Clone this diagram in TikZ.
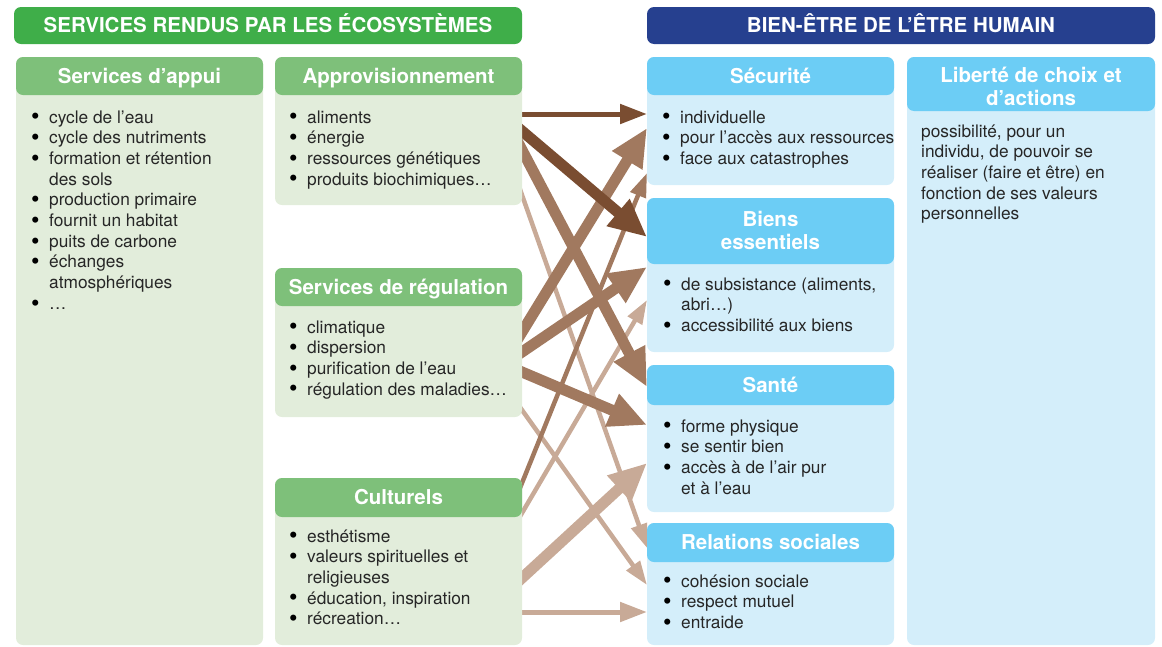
\documentclass[tikz,border=0pt]{standalone}
\usepackage{fontspec}
\setmainfont{TeX Gyre Heros}
\usetikzlibrary{arrows.meta}
\definecolor{gTop}{RGB}{63,174,73}
\definecolor{gHead}{RGB}{126,192,122}
\definecolor{gBody}{RGB}{226,237,219}
\definecolor{bTop}{RGB}{38,64,143}
\definecolor{bHead}{RGB}{108,205,245}
\definecolor{bBody}{RGB}{212,238,250}
\definecolor{aDark}{RGB}{122,77,49}
\definecolor{aMid}{RGB}{161,121,95}
\definecolor{aLight}{RGB}{200,170,151}
\definecolor{txtc}{RGB}{38,38,38}
\newcommand\bodyfnt{\fontsize{17.3}{20.7}\selectfont}
\newcommand\headfnt{\fontsize{20.5}{23}\selectfont\bfseries}
\newcommand\bu{\makebox[18pt][l]{\smash{\raisebox{-1.8pt}{\scalebox{1.4}{\color{black}\textbullet}}}}}
\newcommand\ind{\hspace*{18pt}}
\begin{document}
\begin{tikzpicture}[x=1pt,y=-1pt,
  panel/.style={rounded corners=7pt, inner sep=0pt, outer sep=0pt, anchor=north west, draw=none},
  htxt/.style={font=\headfnt, text=white, inner sep=0pt, text height=14.7pt, text depth=0pt},
  btxt/.style={font=\bodyfnt, text=txtc, inner sep=0pt, anchor=base west},
  arr/.style={line cap=butt, shorten <=-12pt},
  bigarrow/.style={arr, line width=11pt, -{Triangle[length=38pt,width=33pt]}},
  thinarrow/.style={arr, line width=4.5pt, -{Triangle[length=24pt,width=16pt]}},
  horarrow/.style={arr, line width=5pt, -{Triangle[length=27pt,width=19pt]}}]
\path[use as bounding box] (0,0) rectangle (1162,646);

% ---------- arrows (drawn first, boxes cover their starts) ----------
\coordinate (apS1) at (522,114);  \coordinate (seT1) at (647,114);
\coordinate (apS2) at (522,131);  \coordinate (biT1) at (647,237);
\coordinate (apS3) at (522,150);  \coordinate (saT1) at (647,387);
\coordinate (apS4) at (522,195);  \coordinate (reT1) at (647,548);
\coordinate (rgS1) at (522,332);  \coordinate (seT2) at (647,128);
\coordinate (rgS2) at (522,352);  \coordinate (biT2) at (647,267);
\coordinate (rgS3) at (522,372);  \coordinate (saT2) at (647,425);
\coordinate (rgS4) at (522,410);  \coordinate (reT2) at (647,585);
\coordinate (cuS1) at (522,483);  \coordinate (seT3) at (647,173);
\coordinate (cuS2) at (522,513);  \coordinate (biT3) at (647,300);
\coordinate (cuS3) at (522,578);  \coordinate (saT3) at (647,463);
\coordinate (cuS4) at (522,612);  \coordinate (reT3) at (647,612);

\draw[thinarrow, aLight] (apS4) -- (reT1);
\draw[thinarrow, aLight] (rgS4) -- (reT2);
\draw[thinarrow, aLight] (cuS2) -- (biT3);
\draw[bigarrow, aLight] (cuS3) -- (saT3);
\draw[horarrow, aLight] (cuS4) -- (reT3);
\draw[thinarrow, aMid] (cuS1) -- (seT3);
\draw[bigarrow, aMid] (apS3) -- (saT1);
\draw[bigarrow, aMid] (rgS1) -- (seT2);
\draw[bigarrow, aMid] (rgS2) -- (biT2);
\draw[bigarrow, aMid] (rgS3) -- (saT2);
\draw[bigarrow, aDark] (apS2) -- (biT1);
\draw[horarrow, aDark] (apS1) -- (seT1);

% ---------- top headers ----------
\node[panel, fill=gTop, minimum width=508pt, minimum height=37pt] (ecoH) at (14,7) {};
\node[htxt] (ecoL) at (ecoH.center) {SERVICES RENDUS PAR LES ÉCOSYSTÈMES};
\node[panel, fill=bTop, minimum width=508pt, minimum height=37pt] (bienH) at (647,7) {};
\node[htxt] (bienL) at (bienH.center) {BIEN-ÊTRE DE L’ÊTRE HUMAIN};

% ---------- ecosystem service boxes ----------
\node[panel, fill=gBody, minimum width=247pt, minimum height=588pt] (appuiB) at (16,57) {};
\node[panel, fill=gHead, minimum width=247pt, minimum height=38pt] (appuiH) at (16,57) {};
\node[htxt] (appuiL) at (appuiH.center) {Services d’appui};
\node[btxt] (appuiT) at (31,123) {\begin{tabular}[t]{@{}l@{}}
\bu cycle de l’eau\\
\bu cycle des nutriments\\
\bu formation et rétention\\
\ind des sols\\
\bu production primaire\\
\bu fournit un habitat\\
\bu puits de carbone\\
\bu échanges\\
\ind atmosphériques\\
\bu …
\end{tabular}};

\node[panel, fill=gBody, minimum width=247pt, minimum height=148pt] (approB) at (275,57) {};
\node[panel, fill=gHead, minimum width=247pt, minimum height=38pt] (approH) at (275,57) {};
\node[htxt] (approL) at (approH.center) {Approvisionnement};
\node[btxt] (approT) at (289,123) {\begin{tabular}[t]{@{}l@{}}
\bu aliments\\
\bu énergie\\
\bu ressources génétiques\\
\bu produits biochimiques…
\end{tabular}};

\node[panel, fill=gBody, minimum width=247pt, minimum height=149pt] (regB) at (275,268) {};
\node[panel, fill=gHead, minimum width=247pt, minimum height=38pt] (regH) at (275,268) {};
\node[htxt] (regL) at (regH.center) {Services de régulation};
\node[btxt] (regT) at (289,333) {\begin{tabular}[t]{@{}l@{}}
\bu climatique\\
\bu dispersion\\
\bu purification de l’eau\\
\bu régulation des maladies…
\end{tabular}};

\node[panel, fill=gBody, minimum width=247pt, minimum height=167pt] (culB) at (275,478) {};
\node[panel, fill=gHead, minimum width=247pt, minimum height=39pt] (culH) at (275,478) {};
\node[htxt] (culL) at (culH.center) {Culturels};
\node[btxt] (culT) at (289,542) {\begin{tabular}[t]{@{}l@{}}
\bu esthétisme\\
\bu valeurs spirituelles et\\
\ind religieuses\\
\bu éducation, inspiration\\
\bu récreation…
\end{tabular}};

% ---------- well-being boxes ----------
\node[panel, fill=bBody, minimum width=247pt, minimum height=128pt] (secB) at (647,57) {};
\node[panel, fill=bHead, minimum width=247pt, minimum height=38pt] (secH) at (647,57) {};
\node[htxt] (secL) at (secH.center) {Sécurité};
\node[btxt] (secT) at (662,123) {\begin{tabular}[t]{@{}l@{}}
\bu individuelle\\
\bu pour l’accès aux ressources\\
\bu face aux catastrophes
\end{tabular}};

\node[panel, fill=bBody, minimum width=247pt, minimum height=154pt] (bieB) at (647,198) {};
\node[panel, fill=bHead, minimum width=247pt, minimum height=66pt] (bieH) at (647,198) {};
\node[htxt] (bieL1) at (770.5,219.5) {Biens};
\node[htxt] (bieL2) at (770.5,242.5) {essentiels};
\node[btxt] (bieT) at (663,290) {\begin{tabular}[t]{@{}l@{}}
\bu de subsistance (aliments,\\
\ind abri…)\\
\bu accessibilité aux biens
\end{tabular}};

\node[panel, fill=bBody, minimum width=247pt, minimum height=147pt] (sanB) at (647,365) {};
\node[panel, fill=bHead, minimum width=247pt, minimum height=40pt] (sanH) at (647,365) {};
\node[htxt] (sanL) at (sanH.center) {Santé};
\node[btxt] (sanT) at (663,432) {\begin{tabular}[t]{@{}l@{}}
\bu forme physique\\
\bu se sentir bien\\
\bu accès à de l’air pur\\
\ind et à l’eau
\end{tabular}};

\node[panel, fill=bBody, minimum width=247pt, minimum height=122pt] (relB) at (647,523) {};
\node[panel, fill=bHead, minimum width=247pt, minimum height=39pt] (relH) at (647,523) {};
\node[htxt] (relL) at (relH.center) {Relations sociales};
\node[btxt] (relT) at (663,587) {\begin{tabular}[t]{@{}l@{}}
\bu cohésion sociale\\
\bu respect mutuel\\
\bu entraide
\end{tabular}};

\node[panel, fill=bBody, minimum width=248pt, minimum height=588pt] (libB) at (907,57) {};
\node[panel, fill=bHead, minimum width=248pt, minimum height=54pt] (libH) at (907,57) {};
\node[htxt] (libL1) at (1031,75) {Liberté de choix et};
\node[htxt] (libL2) at (1031,98) {d’actions};
\node[btxt] (libT) at (921,137) {\begin{tabular}[t]{@{}l@{}}
possibilité, pour un\\
individu, de pouvoir se\\
réaliser (faire et être) en\\
fonction de ses valeurs\\
personnelles
\end{tabular}};
\end{tikzpicture}
\end{document}
